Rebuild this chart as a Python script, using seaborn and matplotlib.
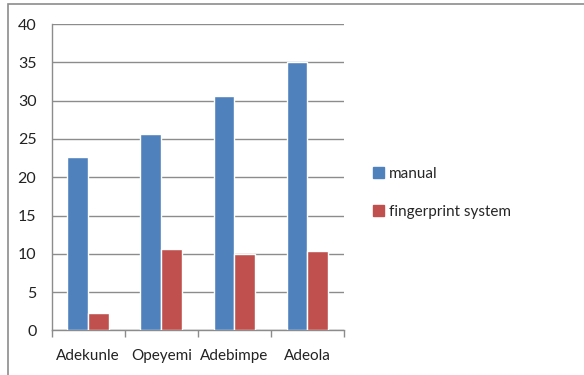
import matplotlib
matplotlib.use("Agg")
import matplotlib.pyplot as plt
import matplotlib.patches as mpatches
from matplotlib.ticker import FixedLocator
import pandas as pd
import seaborn as sns

# Data
names = ["Adekunle", "Opeyemi", "Adebimpe", "Adeola"]
manual = [22.7, 25.6, 30.6, 35.1]
fingerprint = [2.3, 10.6, 10.0, 10.4]
series = ["manual", "fingerprint system"]
colors = ["#4F81BD", "#C0504D"]
yticks = [0, 5, 10, 15, 20, 25, 30, 35, 40]

df = pd.DataFrame({
    "name": names * 2,
    "value": manual + fingerprint,
    "series": [series[0]] * len(names) + [series[1]] * len(names),
})

sns.set_theme(style="white")
plt.rcParams["font.family"] = ["Lato", "DejaVu Sans"]

fig = plt.figure(figsize=(5.84, 3.75), dpi=100)
ax = fig.add_axes([0.0885, 0.1187, 0.5005, 0.8173])

sns.barplot(data=df, x="name", y="value", hue="series", palette=colors,
            width=0.57, saturation=1, ax=ax, legend=False, zorder=3)

ax.set_ylim(0, 40)
ax.set_xlim(-0.5, len(names) - 0.5)
ax.set_yticks(yticks)
ax.set_xlabel("")
ax.set_ylabel("")
ax.grid(axis="y", color="#8C8C8C", linewidth=1.0, zorder=0)
ax.set_axisbelow(True)

for s in ["top", "right"]:
    ax.spines[s].set_visible(False)
for s in ["left", "bottom"]:
    ax.spines[s].set_color("#8C8C8C")
    ax.spines[s].set_linewidth(1.0)

# category labels centred, tick marks on category boundaries
ax.tick_params(axis="x", which="major", length=0, labelsize=11, pad=13, colors="#222222")
ax.xaxis.set_minor_locator(FixedLocator([i - 0.5 for i in range(len(names) + 1)]))
ax.tick_params(axis="x", which="minor", bottom=True, length=5, width=1,
               color="#8C8C8C", direction="out")
ax.tick_params(axis="y", length=5, width=1, direction="out", labelsize=11.5,
               pad=6, color="#8C8C8C", labelcolor="#222222")

handles = [mpatches.Patch(color=c, label=l) for c, l in zip(colors, series)]
fig.legend(handles=handles, loc="upper left", bbox_to_anchor=(0.626, 0.575),
           frameon=False, fontsize=11, handlelength=0.7, handleheight=0.7,
           handletextpad=0.35, labelspacing=1.55, borderpad=0)

# chart frame
fig.patches.append(mpatches.Rectangle((8 / 584, -0.02), 1.0, 1 - 4 / 375 + 0.02,
                                      transform=fig.transFigure, fill=False,
                                      edgecolor="#8C8C8C", linewidth=1.2))

fig.savefig("out.png", dpi=100)
